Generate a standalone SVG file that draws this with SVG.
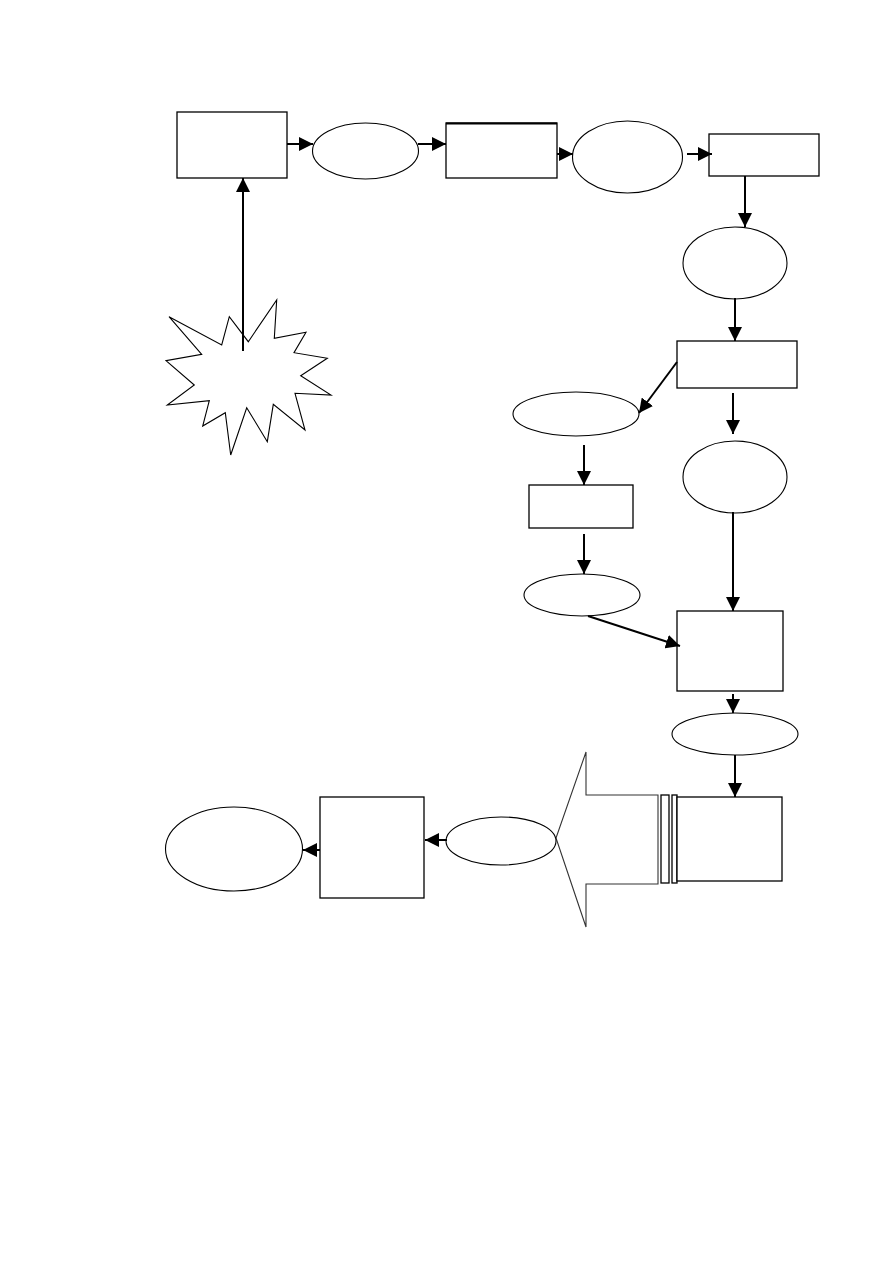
<svg xmlns="http://www.w3.org/2000/svg" width="893" height="1263" viewBox="0 0 893 1263">
<style>
.box{fill:#fff;stroke:#000;stroke-width:1.3}
.ell{fill:#fff;stroke:#000;stroke-width:1.1}
.con line{stroke:#000;stroke-width:2;marker-end:url(#ah)}
.star{fill:#fff;stroke:#000;stroke-width:1.1;stroke-linejoin:miter}
.blk{fill:#fff;stroke:#333;stroke-width:1.1}
</style>
<defs>
<marker id="ah" viewBox="0 0 10 10" refX="10" refY="5" markerWidth="14" markerHeight="14" markerUnits="userSpaceOnUse" orient="auto">
<path d="M0,0 L10,5 L0,10 z" fill="#000"/>
</marker>
</defs>
<rect width="893" height="1263" fill="#fff"/>
<g id="n-star"><polygon class="star" points="169,316.7 221.7,345 229.3,316.7 248.3,341.7 276.7,300 274.3,338.3 306,332.3 294,352.7 327.3,358.3 300.7,375.7 331,395 295,393.3 305,430 273.3,404.3 267.3,441.7 246.7,407.7 230.7,455 225.3,412.7 202.7,426 209.3,400.7 167.3,405 194.3,385 166,360.7 201.7,354.3"/></g>
<g id="n-r1"><rect class="box" x="177" y="112" width="110" height="66"/></g>
<g id="n-e1"><ellipse class="ell" cx="365.5" cy="151" rx="53" ry="28"/></g>
<g id="n-r2"><rect class="box" x="446" y="123" width="111" height="55"/><line x1="446" y1="123.5" x2="557" y2="123.5" stroke="#000" stroke-width="2"/></g>
<g id="n-e2"><ellipse class="ell" cx="627.5" cy="157" rx="55" ry="36"/></g>
<g id="n-r3"><rect class="box" x="709" y="134" width="110" height="42"/></g>
<g id="n-e3"><ellipse class="ell" cx="735" cy="263" rx="52" ry="36"/></g>
<g id="n-r4"><rect class="box" x="677" y="341" width="120" height="47"/></g>
<g id="n-e4"><ellipse class="ell" cx="576" cy="414" rx="63" ry="22"/></g>
<g id="n-e5"><ellipse class="ell" cx="735" cy="477" rx="52" ry="36"/></g>
<g id="n-r5"><rect class="box" x="529" y="485" width="104" height="43"/></g>
<g id="n-e6"><ellipse class="ell" cx="582" cy="595" rx="58" ry="21"/></g>
<g id="n-r6"><rect class="box" x="677" y="611" width="106" height="80"/></g>
<g id="n-e7"><ellipse class="ell" cx="735" cy="734" rx="63" ry="21"/></g>
<g id="n-arrow"><polygon class="blk" points="658,795 586,795 586,752 556,838 586,927 586,884 658,884"/><rect class="box" x="661" y="795" width="8" height="88"/><rect class="box" x="672" y="795" width="5" height="88"/></g>
<g id="n-r7"><rect class="box" x="677" y="797" width="105" height="84"/></g>
<g id="n-e8"><ellipse class="ell" cx="501" cy="841" rx="55" ry="24"/></g>
<g id="n-r8"><rect class="box" x="320" y="797" width="104" height="101"/></g>
<g id="n-e9"><ellipse class="ell" cx="234" cy="849" rx="68.5" ry="42"/></g>
<g id="connectors" class="con">
<line x1="287" y1="144" x2="313" y2="144"/>
<line x1="418" y1="144" x2="446" y2="144"/>
<line x1="557" y1="154" x2="573" y2="154"/>
<line x1="687" y1="154" x2="712" y2="154"/>
<line x1="745" y1="176" x2="745" y2="227"/>
<line x1="735" y1="298" x2="735" y2="341"/>
<line x1="677" y1="362" x2="639" y2="413"/>
<line x1="733" y1="393" x2="733" y2="434"/>
<line x1="584" y1="445" x2="584" y2="485"/>
<line x1="733" y1="512" x2="733" y2="611"/>
<line x1="584" y1="534" x2="584" y2="574"/>
<line x1="588" y1="616" x2="680" y2="646"/>
<line x1="733" y1="694" x2="733" y2="713"/>
<line x1="735" y1="755" x2="735" y2="797"/>
<line x1="447" y1="840" x2="425" y2="840"/>
<line x1="320" y1="850" x2="303" y2="850"/>
<line x1="243" y1="351" x2="243" y2="178"/>
</g>
</svg>
